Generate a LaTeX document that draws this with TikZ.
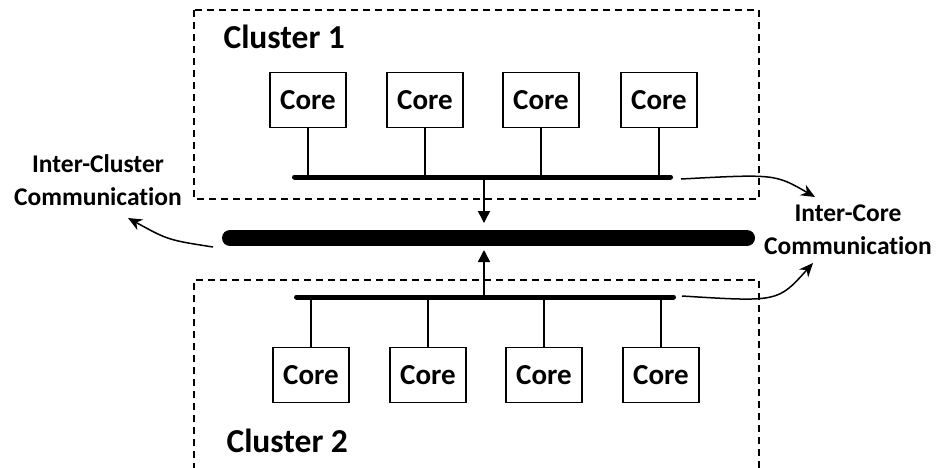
\documentclass[tikz,border=0pt]{standalone}
\usepackage{fontspec}
\setmainfont{Carlito}[Ligatures=NoCommon]
\usetikzlibrary{arrows.meta, positioning, calc}
\tikzset{
  corebox/.style={draw, line width=1.5pt, minimum width=76pt, minimum height=55pt, inner sep=0pt, font=\fontsize{29}{30}\selectfont\bfseries},
  clusterbox/.style={draw, line width=1.3pt, dash pattern=on 7pt off 5pt},
  bus/.style={line width=5pt, line cap=round},
  mainbus/.style={line width=16pt, line cap=round},
  stem/.style={line width=1.5pt},
  commarrow/.style={line width=1.5pt, -{Stealth[length=14pt,width=12pt]}},
  busarrow/.style={line width=1.5pt, -{Triangle[length=12pt,width=12pt]}},
  label/.style={align=center, font=\fontsize{25.5}{33}\selectfont\bfseries}
}
\begin{document}
\begin{tikzpicture}[x=1pt, y=-1pt]
  \useasboundingbox (0,0) rectangle (939,467);
  % Clusters
  \draw[clusterbox] (194,10) rectangle (759,199);
  \draw[clusterbox] (194,470) -- (194,280) -- (759,280) -- (759,470);
  \node[font=\fontsize{33.5}{35}\selectfont\bfseries, anchor=west] (c1) at (220,37) {Cluster 1};
  \node[font=\fontsize{33.5}{35}\selectfont\bfseries, anchor=west] (c2) at (223,441) {Cluster 2};
  % Buses
  \coordinate (busAW) at (294.5,177);
  \coordinate (busAE) at (670.5,177);
  \coordinate (busBW) at (296.5,297);
  \coordinate (busBE) at (673.5,297);
  \coordinate (mainW) at (230,238);
  \coordinate (mainE) at (747,238);
  \draw[bus] (busAW) -- (busAE);
  \draw[bus] (busBW) -- (busBE);
  \draw[mainbus] (mainW) -- (mainE);
  % Cores
  \foreach \i/\x in {1/308,2/425,3/541,4/659} {
    \node[corebox] (top\i) at (\x,100) {Core};
    \draw[stem] (top\i.south) -- (top\i.south |- busAW);
  }
  \foreach \i/\x in {1/311,2/428,3/544,4/661} {
    \node[corebox] (bot\i) at (\x,375) {Core};
    \draw[stem] (bot\i.north) -- (bot\i.north |- busBW);
  }
  % Links to the main bus
  \coordinate (downA) at (484,177);
  \coordinate (downB) at (484,223);
  \coordinate (upA) at (484,297);
  \coordinate (upB) at (484,250);
  \draw[busarrow] (downA) -- (downB);
  \draw[busarrow] (upA) -- (upB);
  % Communication labels
  \node[label] (icl) at (98,180) {Inter-Cluster\\Communication};
  \node[label] (ico) at (848,230) {Inter-Core\\Communication};
  \coordinate (iclFrom) at (213,247);
  \coordinate (iclTip) at (128,218);
  \coordinate (icoFromA) at (681,179);
  \coordinate (icoTipA) at (815,197);
  \coordinate (icoFromB) at (682,296);
  \coordinate (icoTipB) at (813,263);
  \draw[commarrow] (iclFrom) .. controls (168,240) .. (iclTip);
  \draw[commarrow] (icoFromA) .. controls (775,174) .. (icoTipA);
  \draw[commarrow] (icoFromB) .. controls (778,302) .. (icoTipB);
\end{tikzpicture}
\end{document}
